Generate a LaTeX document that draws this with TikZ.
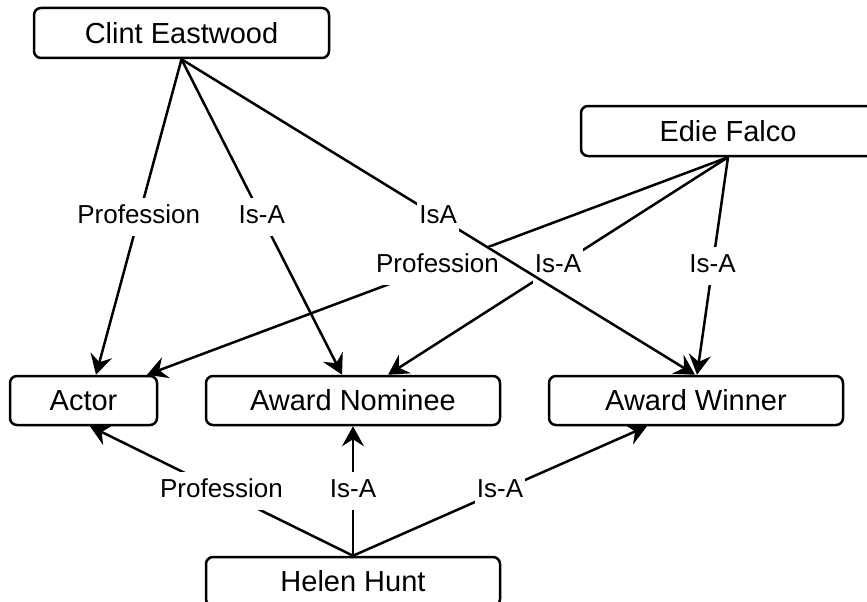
\documentclass[tikz,border=0pt]{standalone}
\usepackage{fontspec}
\setmainfont{Liberation Sans}
\usetikzlibrary{arrows.meta}

\begin{document}
\begin{tikzpicture}[x=1pt,y=-1pt,
  entity/.style={draw, line width=2.5pt, rounded corners=7pt, fill=white,
    minimum width=294pt, minimum height=49pt, inner sep=0pt,
    font=\fontsize{29}{34}\selectfont},
  rel/.style={line width=2.5pt, -{Stealth[length=20pt,width=22pt,inset=7pt]}},
  tag/.style={fill=white, inner xsep=2pt, inner ysep=2pt,
    text height=23pt, text depth=11pt, font=\fontsize{26}{30}\selectfont}
]
  \clip (0,0) rectangle (867,602);
  \fill[white] (0,0) rectangle (867,602);

  % concepts
  \node[entity, minimum width=295pt, minimum height=50pt] (clint) at (181.5,33) {Clint Eastwood};
  \node[entity, minimum height=50pt] (edie) at (728,131) {Edie Falco};
  \node[entity, minimum width=147pt] (actor) at (83.5,400.5) {Actor};
  \node[entity] (nominee) at (353,400.5) {Award Nominee};
  \node[entity] (winner) at (696,400.5) {Award Winner};
  \node[entity] (helen) at (353,581.5) {Helen Hunt};

  % Clint Eastwood
  \draw[rel] (clint.south) -- ([xshift=12.5pt]actor.north) node[tag, midway] {Profession};
  \draw[rel] (clint.south) -- ([xshift=-11pt]nominee.north) node[tag, midway] {Is-A};

  % Edie Falco
  \draw[rel] (edie.south) -- ([xshift=63.5pt]actor.north) node[tag, midway] {Profession};
  \draw[rel] (edie.south) -- ([xshift=35pt]nominee.north) node[tag, midway] {Is-A};
  \draw[rel] (edie.south) -- ([xshift=1pt]winner.north) node[tag, midway] {Is-A};

  % Clint Eastwood to Award Winner, crossing over the Edie Falco links
  \draw[rel] (clint.south) -- ([xshift=-1pt]winner.north) node[tag, midway] {IsA};

  % Helen Hunt
  \draw[rel] (helen.north) -- ([xshift=6.5pt]actor.south) node[tag, midway] {Profession};
  \draw[rel] (helen.north) -- (nominee.south) node[tag, midway] {Is-A};
  \draw[rel] (helen.north) -- ([xshift=-49pt]winner.south) node[tag, midway] {Is-A};
\end{tikzpicture}
\end{document}
